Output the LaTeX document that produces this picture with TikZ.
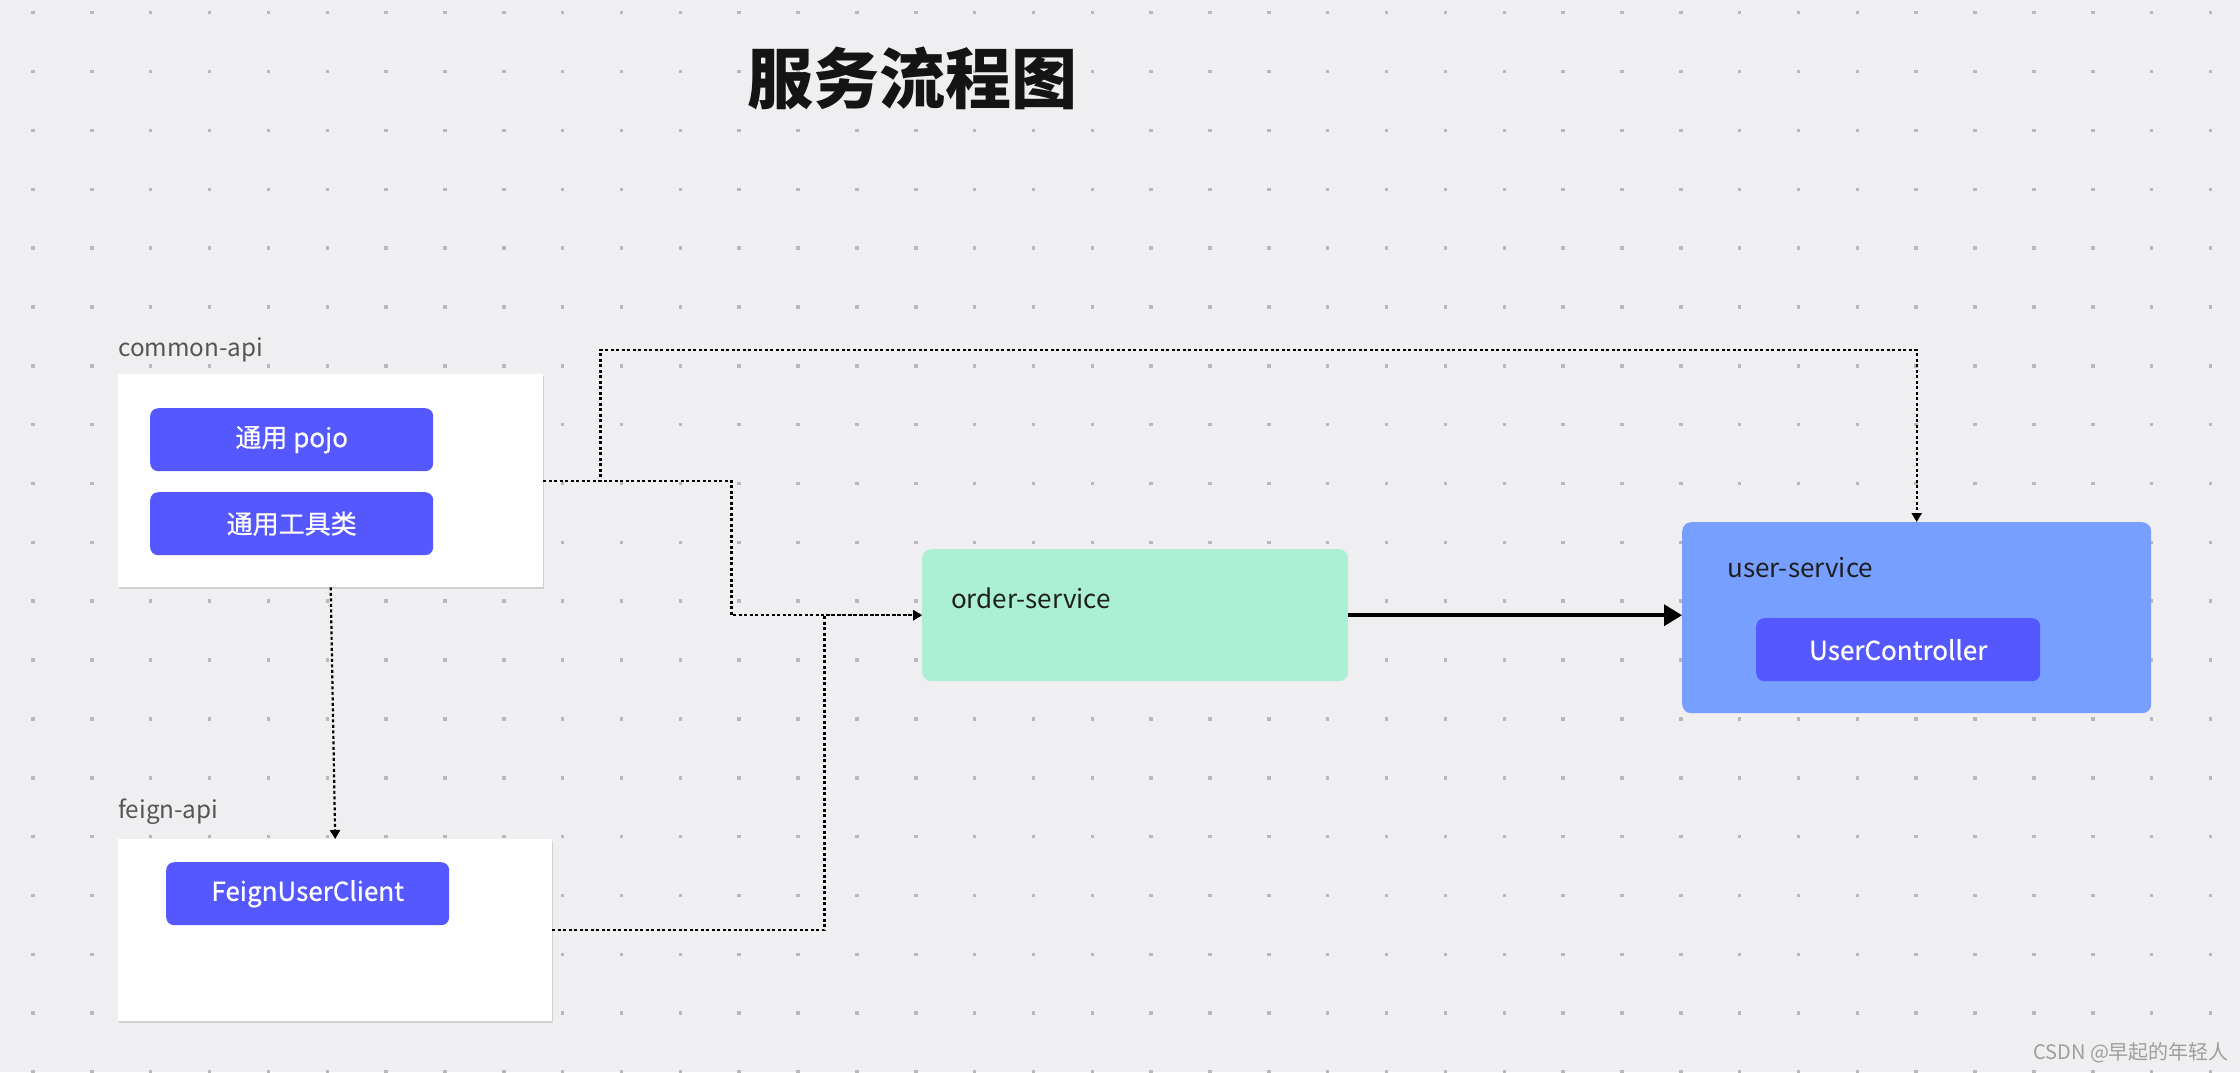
\documentclass[tikz,border=0pt]{standalone}
\usepackage{fontspec}
\setmainfont{Noto Sans CJK SC}
\newfontfamily\btnfont[FakeBold=0.7]{Noto Sans CJK SC}
\usetikzlibrary{arrows.meta,shadows,calc}
\definecolor{bg}{RGB}{239,239,241}
\definecolor{dotc}{RGB}{184,184,186}
\definecolor{btnc}{RGB}{85,87,255}
\definecolor{orderc}{RGB}{171,240,213}
\definecolor{userc}{RGB}{119,159,255}
\definecolor{lblc}{RGB}{85,85,85}
\definecolor{darkc}{RGB}{30,30,30}
\tikzset{
  whitebox/.style={draw=none,fill=white,anchor=north west,inner sep=0pt,
    drop shadow={shadow xshift=0.5pt,shadow yshift=-2pt,opacity=0.12,fill=black}},
  btn/.style={draw=none,fill=btnc,rounded corners=8pt,anchor=north west,inner sep=0pt,
    text=white,font=\btnfont\fontsize{26}{31}\selectfont},
  svc/.style={draw=none,rounded corners=9pt,anchor=north west,inner sep=0pt},
  grouplbl/.style={anchor=base west,inner sep=0pt,text=lblc,font=\fontsize{24.3}{29}\selectfont},
  svclbl/.style={anchor=base west,inner sep=0pt,text=darkc,font=\fontsize{26}{31}\selectfont},
  dotline/.style={line width=2.2pt,dash pattern=on 3pt off 2.5pt,-{Triangle[length=9pt,width=10pt]}},
  thickarrow/.style={line width=3.5pt,-{Triangle[length=18pt,width=21pt]}}
}
\begin{document}
\begin{tikzpicture}[x=1pt,y=-1pt]
\useasboundingbox (0,0) rectangle (2240,1072);
\fill[bg] (0,0) rectangle (2240,1072);
% dot grid
\foreach \i in {0,...,37}{
  \foreach \j in {0,...,18}{
    \fill[dotc] ({33+58.85*\i-1.75},{12.7+58.85*\j-1.75}) rectangle ++(3.5,3.5);
  }
}
% title
\node[anchor=base,inner sep=0pt,text=black!92,font=\fontsize{66}{72}\selectfont\bfseries] (title) at (912,103) {服务流程图};

% group labels
\node[grouplbl] (cablbl) at (118,356) {common-api};
\node[grouplbl] (feignlbl) at (118,818) {feign-api};

% boxes
\node[whitebox,minimum width=425pt,minimum height=213pt] (cab) at (118,374) {};
\node[btn,minimum width=283pt,minimum height=63pt] (pojo) at (150,408) {通用 pojo};
\node[btn,minimum width=283pt,minimum height=63pt] (tools) at (150,492) {通用工具类};

\node[whitebox,minimum width=434pt,minimum height=182pt] (feign) at (118,839) {};
\node[btn,minimum width=283pt,minimum height=63pt] (fuc) at (166,862) {FeignUserClient};

\node[svc,fill=orderc,minimum width=426pt,minimum height=132pt] (order) at (922,549) {};
\node[svclbl] (orderlbl) at (951,608) {order-service};

\node[svc,fill=userc,minimum width=469pt,minimum height=191pt] (user) at (1682,522) {};
\node[svclbl] (userlbl) at (1727,577) {user-service};
\node[btn,minimum width=284pt,minimum height=63pt] (uc) at (1756,618) {UserController};

% connectors
\draw[dotline] (cab.south) -- (feign.north);
\draw[dotline] (cab.east) -- ++(188,0) |- (order.west);
\draw[dotline] (cab.east) -- ++(57,0) -- ++(0,-130.5) -| (user.north);
\draw[dotline] (feign.east) -- ++(272,0) |- (order.west);
\draw[thickarrow] (order.east) -- (order.east -| user.west);

% watermark
\node[anchor=base west,inner sep=0pt,text=black!38,font=\fontsize{20}{24}\selectfont] (wm) at (2033,1059) {CSDN @早起的年轻人};
\end{tikzpicture}
\end{document}
